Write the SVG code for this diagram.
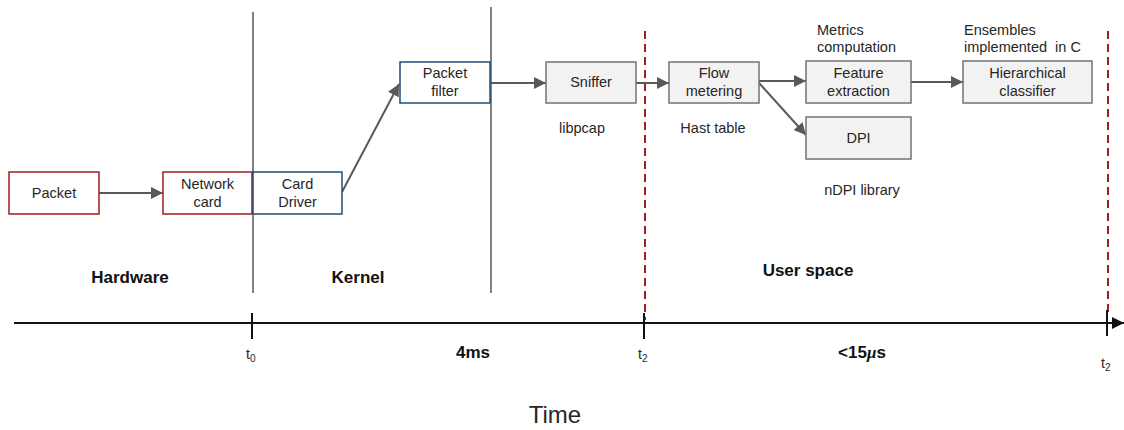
<svg xmlns="http://www.w3.org/2000/svg" width="1124" height="430" viewBox="0 0 1124 430">
<style>
text{font-family:"Liberation Sans",Arial,sans-serif;fill:#262626}
.bx{font-size:14.5px;text-anchor:middle}
.lb{font-size:14.5px}
.hd{font-size:17px;font-weight:bold;text-anchor:middle;fill:#111}
.red{fill:#fff;stroke:#a51c1c;stroke-width:1.5}
.blue{fill:#fff;stroke:#1f4e79;stroke-width:1.5}
.gray{fill:#f2f2f2;stroke:#737373;stroke-width:1.5}
.conn{stroke:#595959;stroke-width:2;fill:none;marker-end:url(#ah)}
.sep{stroke:#595959;stroke-width:1.5}
.dash{stroke:#a51c1c;stroke-width:2;stroke-dasharray:8,5}
.tick{stroke:#111;stroke-width:2}
</style>
<defs>
<marker id="ah" viewBox="0 0 10 10" refX="10" refY="5" markerWidth="6" markerHeight="6" orient="auto" markerUnits="strokeWidth"><path d="M0,0L10,5L0,10z" fill="#595959"/></marker>
<marker id="ax" viewBox="0 0 10 10" refX="10" refY="5" markerWidth="6" markerHeight="6" orient="auto" markerUnits="strokeWidth"><path d="M0,0L10,5L0,10z" fill="#111"/></marker>
</defs>
<g id="separators">
<line class="sep" x1="253" y1="12" x2="253" y2="293"/>
<line class="sep" x1="491" y1="7" x2="491" y2="293"/>
<line class="dash" x1="645" y1="31" x2="645" y2="320"/>
<line class="dash" x1="1108" y1="31" x2="1108" y2="312"/>
</g>
<g id="connectors">
<line class="conn" x1="99" y1="193" x2="163" y2="193"/>
<line class="conn" x1="342" y1="192" x2="399" y2="84"/>
<line class="conn" x1="490" y1="83" x2="546" y2="83"/>
<line class="conn" x1="636" y1="83" x2="669" y2="83"/>
<line class="conn" x1="759" y1="81" x2="806" y2="81"/>
<line class="conn" x1="759" y1="83" x2="806" y2="135"/>
<line class="conn" x1="911" y1="82" x2="963" y2="82"/>
</g>
<g id="packet"><rect class="red" x="9" y="172" width="90" height="42"/><text class="bx" x="54" y="198">Packet</text></g>
<g id="network-card"><rect class="red" x="163" y="172" width="89" height="42"/><text class="bx" x="207.5" y="189">Network</text><text class="bx" x="207.5" y="207">card</text></g>
<g id="card-driver"><rect class="blue" x="253" y="172" width="89" height="42"/><text class="bx" x="297.5" y="189">Card</text><text class="bx" x="297.5" y="207">Driver</text></g>
<g id="packet-filter"><rect class="blue" x="400" y="62" width="90" height="41"/><text class="bx" x="445" y="78">Packet</text><text class="bx" x="445" y="96">filter</text></g>
<g id="sniffer"><rect class="gray" x="546" y="62" width="90" height="41"/><text class="bx" x="591" y="87">Sniffer</text><text class="lb" x="582" y="133" text-anchor="middle">libpcap</text></g>
<g id="flow-metering"><rect class="gray" x="669" y="62" width="90" height="41"/><text class="bx" x="714" y="78">Flow</text><text class="bx" x="714" y="96">metering</text><text class="lb" x="713" y="133" text-anchor="middle">Hast table</text></g>
<g id="feature-extraction"><text class="lb" x="817" y="35">Metrics</text><text class="lb" x="817" y="52">computation</text><rect class="gray" x="806" y="61" width="105" height="42"/><text class="bx" x="858.5" y="78">Feature</text><text class="bx" x="858.5" y="96">extraction</text></g>
<g id="dpi"><rect class="gray" x="806" y="117" width="105" height="42"/><text class="bx" x="858.5" y="143">DPI</text><text class="lb" x="862" y="195" text-anchor="middle">nDPI library</text></g>
<g id="hierarchical-classifier"><text class="lb" x="964" y="35">Ensembles</text><text class="lb" x="964" y="52" xml:space="preserve">implemented  in C</text><rect class="gray" x="963" y="61" width="129" height="42"/><text class="bx" x="1027.5" y="78">Hierarchical</text><text class="bx" x="1027.5" y="96">classifier</text></g>
<g id="regions">
<text class="hd" x="130" y="283">Hardware</text>
<text class="hd" x="358" y="283">Kernel</text>
<text class="hd" x="808" y="276">User space</text>
</g>
<g id="timeline">
<line x1="14" y1="323" x2="1124" y2="323" stroke="#111" stroke-width="2" marker-end="url(#ax)"/>
<line class="tick" x1="252" y1="313" x2="252" y2="339"/>
<line class="tick" x1="644" y1="313" x2="644" y2="339"/>
<line class="tick" x1="1107" y1="310" x2="1107" y2="336"/>
<text x="246" y="359" font-size="14">t<tspan font-size="10" dy="3">0</tspan></text>
<text x="638" y="359" font-size="14">t<tspan font-size="10" dy="3">2</tspan></text>
<text x="1101" y="368" font-size="14">t<tspan font-size="10" dy="3">2</tspan></text>
<text class="hd" x="473" y="358">4ms</text>
<text class="hd" x="862" y="358">&lt;15<tspan font-family="'Liberation Serif',serif" font-style="italic">μ</tspan>s</text>
<text x="555" y="423" font-size="24" text-anchor="middle">Time</text>
</g>
</svg>
